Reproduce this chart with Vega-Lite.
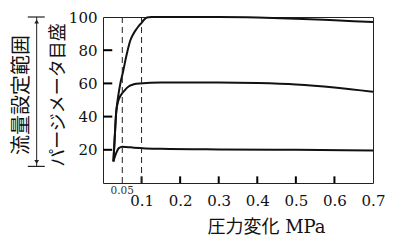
{
  "$schema": "https://vega.github.io/schema/vega-lite/v6.json",
  "width": 270,
  "height": 166,
  "autosize": {"type": "none"},
  "padding": {"left": 103, "top": 17, "right": 27, "bottom": 63},
  "background": "white",
  "config": {
    "view": {"stroke": "#222", "strokeWidth": 1},
    "axis": {"grid": false, "domain": false, "ticks": false, "labelColor": "#111", "labelFont": "DejaVu Serif", "labelFontSize": 15, "labelFlush": false}
  },
  "datasets": {
    "curves": [
      {"c": "upper", "p": 0.027, "v": 13}, {"c": "upper", "p": 0.031, "v": 30}, {"c": "upper", "p": 0.034, "v": 42},
      {"c": "upper", "p": 0.038, "v": 50}, {"c": "upper", "p": 0.045, "v": 60}, {"c": "upper", "p": 0.052, "v": 67},
      {"c": "upper", "p": 0.06, "v": 76}, {"c": "upper", "p": 0.066, "v": 82}, {"c": "upper", "p": 0.071, "v": 86},
      {"c": "upper", "p": 0.078, "v": 89.5}, {"c": "upper", "p": 0.086, "v": 92.5}, {"c": "upper", "p": 0.094, "v": 95},
      {"c": "upper", "p": 0.1, "v": 96.5}, {"c": "upper", "p": 0.107, "v": 98.5}, {"c": "upper", "p": 0.114, "v": 99.7},
      {"c": "upper", "p": 0.125, "v": 100}, {"c": "upper", "p": 0.2, "v": 100}, {"c": "upper", "p": 0.3, "v": 100},
      {"c": "upper", "p": 0.4, "v": 99.7}, {"c": "upper", "p": 0.5, "v": 99}, {"c": "upper", "p": 0.6, "v": 98},
      {"c": "upper", "p": 0.7, "v": 97},
      {"c": "middle", "p": 0.027, "v": 13}, {"c": "middle", "p": 0.031, "v": 30}, {"c": "middle", "p": 0.034, "v": 42},
      {"c": "middle", "p": 0.037, "v": 47}, {"c": "middle", "p": 0.042, "v": 51}, {"c": "middle", "p": 0.048, "v": 53.5},
      {"c": "middle", "p": 0.055, "v": 55.5}, {"c": "middle", "p": 0.062, "v": 57.3}, {"c": "middle", "p": 0.07, "v": 58.6},
      {"c": "middle", "p": 0.08, "v": 59.5}, {"c": "middle", "p": 0.095, "v": 60}, {"c": "middle", "p": 0.15, "v": 60.5},
      {"c": "middle", "p": 0.3, "v": 60.5}, {"c": "middle", "p": 0.4, "v": 60.2}, {"c": "middle", "p": 0.5, "v": 59.4},
      {"c": "middle", "p": 0.6, "v": 57.6}, {"c": "middle", "p": 0.7, "v": 55},
      {"c": "lower", "p": 0.027, "v": 13}, {"c": "lower", "p": 0.031, "v": 16}, {"c": "lower", "p": 0.035, "v": 18.5},
      {"c": "lower", "p": 0.041, "v": 21}, {"c": "lower", "p": 0.05, "v": 21.8}, {"c": "lower", "p": 0.06, "v": 21.7},
      {"c": "lower", "p": 0.08, "v": 21.3}, {"c": "lower", "p": 0.15, "v": 20.6}, {"c": "lower", "p": 0.3, "v": 20.2},
      {"c": "lower", "p": 0.5, "v": 20}, {"c": "lower", "p": 0.7, "v": 19.6}
    ],
    "yticklines": [
      {"p": 0, "p2": 0.024, "v": 20}, {"p": 0, "p2": 0.024, "v": 40},
      {"p": 0, "p2": 0.024, "v": 60}, {"p": 0, "p2": 0.024, "v": 80}
    ],
    "xticklines": [
      {"p": 0.1, "v": 0, "v2": 4}, {"p": 0.2, "v": 0, "v2": 4}, {"p": 0.3, "v": 0, "v2": 4},
      {"p": 0.4, "v": 0, "v2": 4}, {"p": 0.5, "v": 0, "v2": 4}, {"p": 0.6, "v": 0, "v2": 4}
    ],
    "dashes": [{"p": 0.05}, {"p": 0.1}],
    "small": [{"p": 0.05, "v": -4.8, "t": "0.05"}],
    "bracket": [{"p": -0.172, "v": 10, "v2": 100}],
    "bars": [{"p": -0.195, "p2": -0.151, "v": 100}, {"p": -0.195, "p2": -0.151, "v": 10}],
    "arrows": [{"p": -0.172, "v": 97.3, "s": "up"}, {"p": -0.172, "v": 12.7, "s": "down"}],
    "label1": [{"p": -0.115, "v": 53, "t": "パージメータ目盛"}],
    "label2": [{"p": -0.211, "v": 53, "t": "流量設定範囲"}]
  },
  "layer": [
    {
      "data": {"name": "curves"},
      "mark": {"type": "line", "color": "#111", "strokeWidth": 2, "interpolate": "monotone"},
      "encoding": {
        "x": {"field": "p", "type": "quantitative", "scale": {"domain": [0, 0.7], "nice": false, "zero": false},
          "axis": {"values": [0.1, 0.2, 0.3, 0.4, 0.5, 0.6, 0.7], "format": ".1f", "labelPadding": 10,
            "title": "圧力変化  MPa", "titleFont": "DejaVu Serif, Noto Sans CJK JP", "titleFontSize": 18, "titleFontWeight": "normal", "titleColor": "#111",
            "titleX": 163, "titleY": 49, "titleBaseline": "alphabetic", "titleAnchor": "middle"}},
        "y": {"field": "v", "type": "quantitative", "scale": {"domain": [0, 100], "nice": false, "zero": false},
          "axis": {"values": [20, 40, 60, 80, 100], "labelPadding": 6, "title": null}},
        "detail": {"field": "c"}
      }
    },
    {
      "data": {"name": "yticklines"},
      "mark": {"type": "rule", "color": "#000", "strokeWidth": 2},
      "encoding": {
        "x": {"field": "p", "type": "quantitative", "scale": {"domain": [0, 0.7], "nice": false, "zero": false}},
        "x2": {"field": "p2"},
        "y": {"field": "v", "type": "quantitative", "scale": {"domain": [0, 100], "nice": false, "zero": false}}
      }
    },
    {
      "data": {"name": "xticklines"},
      "mark": {"type": "rule", "color": "#000", "strokeWidth": 2},
      "encoding": {
        "x": {"field": "p", "type": "quantitative", "scale": {"domain": [0, 0.7], "nice": false, "zero": false}},
        "y": {"field": "v", "type": "quantitative", "scale": {"domain": [0, 100], "nice": false, "zero": false}},
        "y2": {"field": "v2"}
      }
    },
    {
      "data": {"name": "dashes"},
      "mark": {"type": "rule", "color": "#222", "strokeWidth": 1, "strokeDash": [6, 4]},
      "encoding": {
        "x": {"field": "p", "type": "quantitative", "scale": {"domain": [0, 0.7], "nice": false, "zero": false}}
      }
    },
    {
      "data": {"name": "small"},
      "mark": {"type": "text", "font": "DejaVu Serif", "fontSize": 10.5, "color": "#333", "align": "center", "baseline": "middle"},
      "encoding": {
        "x": {"field": "p", "type": "quantitative", "scale": {"domain": [0, 0.7], "nice": false, "zero": false}},
        "y": {"field": "v", "type": "quantitative", "scale": {"domain": [0, 100], "nice": false, "zero": false}},
        "text": {"field": "t"}
      }
    },
    {
      "data": {"name": "bracket"},
      "mark": {"type": "rule", "color": "#222", "strokeWidth": 1},
      "encoding": {
        "x": {"field": "p", "type": "quantitative", "scale": {"domain": [0, 0.7], "nice": false, "zero": false}},
        "y": {"field": "v", "type": "quantitative", "scale": {"domain": [0, 100], "nice": false, "zero": false}},
        "y2": {"field": "v2"}
      }
    },
    {
      "data": {"name": "bars"},
      "mark": {"type": "rule", "color": "#222", "strokeWidth": 1.2},
      "encoding": {
        "x": {"field": "p", "type": "quantitative", "scale": {"domain": [0, 0.7], "nice": false, "zero": false}},
        "x2": {"field": "p2"},
        "y": {"field": "v", "type": "quantitative", "scale": {"domain": [0, 100], "nice": false, "zero": false}}
      }
    },
    {
      "data": {"name": "arrows"},
      "mark": {"type": "point", "filled": true, "color": "#222", "size": 22, "opacity": 1},
      "encoding": {
        "x": {"field": "p", "type": "quantitative", "scale": {"domain": [0, 0.7], "nice": false, "zero": false}},
        "y": {"field": "v", "type": "quantitative", "scale": {"domain": [0, 100], "nice": false, "zero": false}},
        "shape": {"field": "s", "type": "nominal", "scale": {"domain": ["up", "down"], "range": ["triangle-up", "triangle-down"]}, "legend": null}
      }
    },
    {
      "data": {"name": "label1"},
      "mark": {"type": "text", "font": "Noto Sans CJK JP", "fontSize": 18, "angle": 270, "color": "#111", "align": "center", "baseline": "middle"},
      "encoding": {
        "x": {"field": "p", "type": "quantitative", "scale": {"domain": [0, 0.7], "nice": false, "zero": false}},
        "y": {"field": "v", "type": "quantitative", "scale": {"domain": [0, 100], "nice": false, "zero": false}},
        "text": {"field": "t"}
      }
    },
    {
      "data": {"name": "label2"},
      "mark": {"type": "text", "font": "Noto Sans CJK JP", "fontSize": 20, "angle": 270, "color": "#111", "align": "center", "baseline": "middle"},
      "encoding": {
        "x": {"field": "p", "type": "quantitative", "scale": {"domain": [0, 0.7], "nice": false, "zero": false}},
        "y": {"field": "v", "type": "quantitative", "scale": {"domain": [0, 100], "nice": false, "zero": false}},
        "text": {"field": "t"}
      }
    }
  ]
}
